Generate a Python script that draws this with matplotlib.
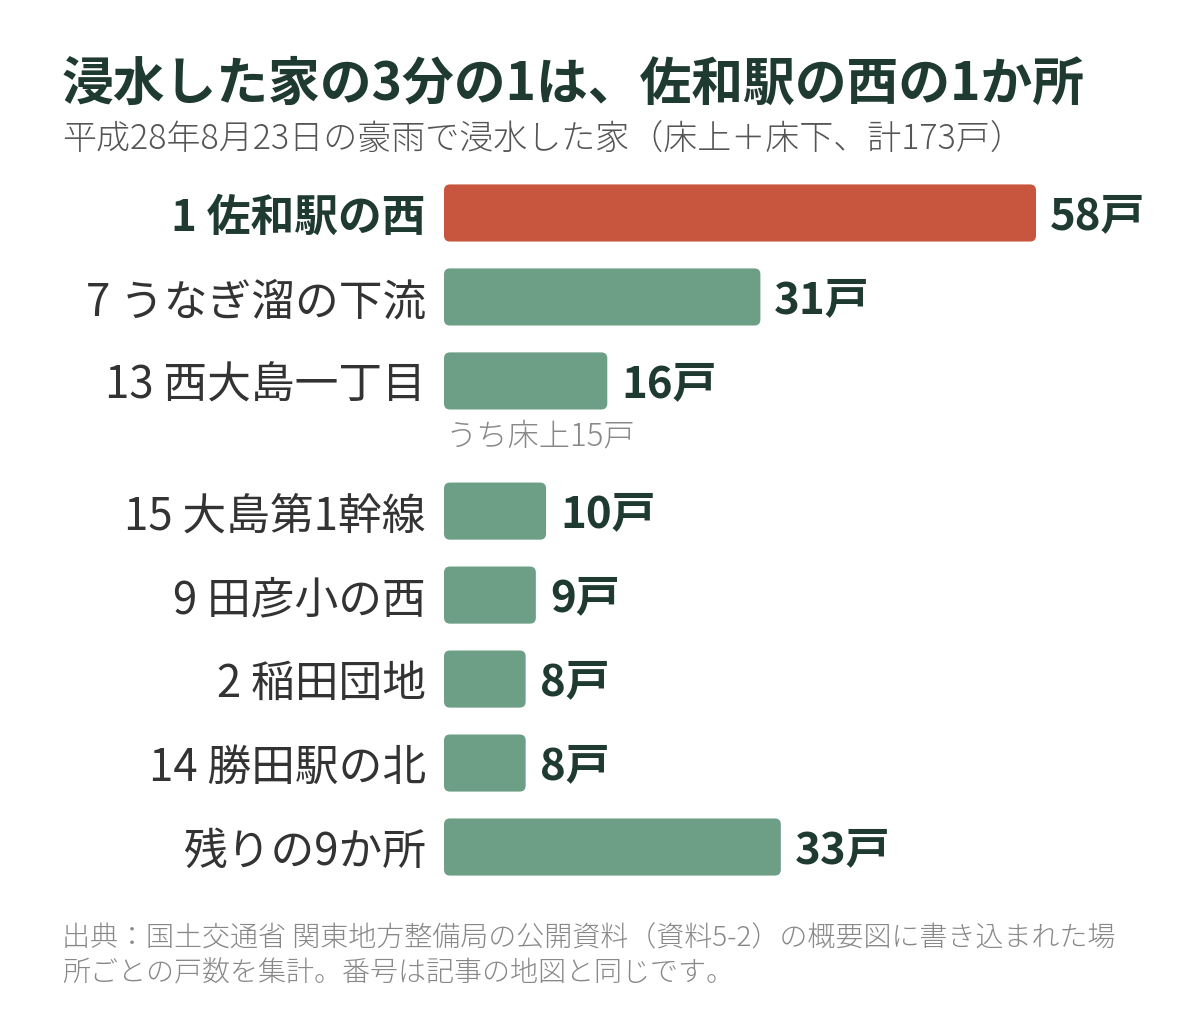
import matplotlib
matplotlib.use("Agg")
import matplotlib.pyplot as plt
from matplotlib.patches import FancyBboxPatch

plt.rcParams['font.family'] = ['Noto Sans CJK JP', 'DejaVu Sans']

# data
places = ['1 佐和駅の西', '7 うなぎ溜の下流', '13 西大島一丁目', '15 大島第1幹線',
          '9 田彦小の西', '2 稲田団地', '14 勝田駅の北', '残りの9か所']
houses = [58, 31, 16, 10, 9, 8, 8, 33]
note_text = 'うち床上15戸'

title = '浸水した家の3分の1は、佐和駅の西の1か所'
subtitle = '平成28年8月23日の豪雨で浸水した家（床上＋床下、計173戸）'
source = ('出典：国土交通省 関東地方整備局の公開資料（資料5-2）の概要図に書き込まれた場\n'
          '所ごとの戸数を集計。番号は記事の地図と同じです。')

dark = '#1f3a30'
red = '#c8553d'
green = '#6d9e86'
gray = '#555555'

W, H = 1200, 1024
fig = plt.figure(figsize=(W / 100, H / 100), dpi=100)

# axes placed in pixel terms: x 444..1036 for 0..58
ax_left, ax_right = 444, 1036
ax_top, ax_bot = 150, 900
ax = fig.add_axes([ax_left / W, 1 - ax_bot / H, (ax_right - ax_left) / W, (ax_bot - ax_top) / H])

# row positions (extra gap after 3rd row for the note)
ypos = [0, 1, 2, 3.55, 4.55, 5.55, 6.55, 7.55]
px_per_y = 84
ax.set_xlim(0, 58)
ax.set_ylim(7.55 + 53 / px_per_y, -63 / px_per_y)

colors = [red] + [green] * (len(houses) - 1)
bars = ax.barh(ypos, houses, height=0.68, color=colors)

# swap plain bars for rounded ones
x_per_px = 58 / (ax_right - ax_left)
y_per_px = 1 / px_per_y
r = 6 * x_per_px
for b in bars:
    x0, y0 = b.get_x(), b.get_y()
    w, h = b.get_width(), b.get_height()
    p = FancyBboxPatch((x0, y0), w, h,
                       boxstyle=f"round,pad=0,rounding_size={r}",
                       mutation_aspect=y_per_px / x_per_px,
                       facecolor=b.get_facecolor(), edgecolor='none')
    b.remove()
    ax.add_patch(p)

for y, v in zip(ypos, houses):
    ax.annotate(f'{v}戸', (v, y), xytext=(10, -2), textcoords='offset points',
                ha='left', va='center', fontsize=31.5, fontweight='bold', color=dark)

ax.annotate(note_text, (0, ypos[2]), xytext=(1, -40), textcoords='offset points',
            ha='left', va='center', fontsize=22.5, color='#888888', fontweight='light')

ax.set_yticks(ypos, places)
ax.tick_params(axis='y', length=0, pad=13, labelsize=31.5, labelcolor='#333333')
ax.get_yticklabels()[0].set_fontweight('bold')
ax.get_yticklabels()[0].set_color(dark)
ax.set_xticks([])
for s in ax.spines.values():
    s.set_visible(False)

fig.text(62 / W, 1 - 84 / H, title, fontsize=37.3, fontweight='bold', color=dark,
         ha='left', va='center')
fig.text(62 / W, 1 - 139 / H, subtitle, fontsize=24.5, color=gray, fontweight='light',
         ha='left', va='center')
fig.text(62 / W, 1 - 956 / H, source, fontsize=20.2, color='#888888', fontweight='light',
         ha='left', va='center', linespacing=1.3)

fig.savefig('out.png', dpi=100, facecolor='white')
